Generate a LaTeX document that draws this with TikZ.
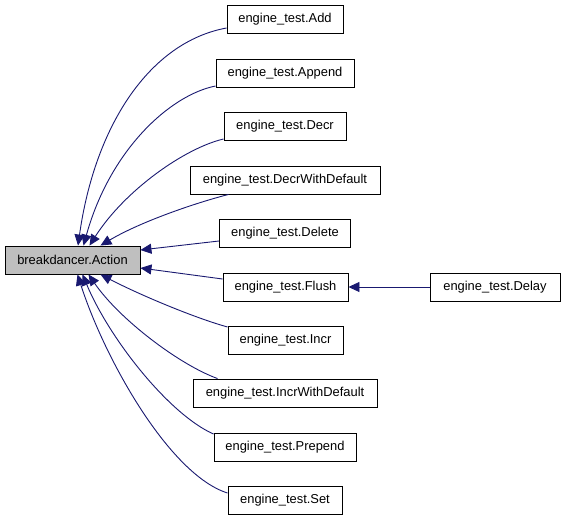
\documentclass[tikz,border=0pt]{standalone}
\usepackage{fontspec}
\setmainfont{Liberation Sans}
\usetikzlibrary{arrows.meta,calc}
\definecolor{edgeblue}{HTML}{191970}
\definecolor{actgray}{HTML}{BFBFBF}
\tikzset{
  cls/.style={draw=black, line width=0.9pt, fill=white, minimum height=28pt, inner sep=0pt,
    font=\fontsize{12.9}{15}\selectfont},
  dep/.style={draw=edgeblue, line width=0.9pt, -{Triangle[length=11pt,width=10pt]}},
}
\begin{document}
\begin{tikzpicture}[x=1pt,y=-1pt]
\useasboundingbox (0,0) rectangle (563,520);
\node[cls, fill=actgray, minimum width=135pt] (action) at (72.5,260) {breakdancer.Action};
\node[cls, minimum width=116pt] (add) at (285,19.5) {engine\_test.Add};
\node[cls, minimum width=138pt] (append) at (285,73) {engine\_test.Append};
\node[cls, minimum width=122pt] (decr) at (285,126) {engine\_test.Decr};
\node[cls, minimum width=190pt] (decrwd) at (285,180) {engine\_test.DecrWithDefault};
\node[cls, minimum width=131pt] (delete) at (285,233) {engine\_test.Delete};
\node[cls, minimum width=125pt] (flush) at (285.5,287) {engine\_test.Flush};
\node[cls, minimum width=115pt] (incr) at (285.5,340) {engine\_test.Incr};
\node[cls, minimum width=184pt] (incrwd) at (285,393) {engine\_test.IncrWithDefault};
\node[cls, minimum width=142pt] (prepend) at (285,447) {engine\_test.Prepend};
\node[cls, minimum width=114pt] (set) at (285,500) {engine\_test.Set};
\node[cls, minimum width=130pt] (delay) at (495,287) {engine\_test.Delay};

\draw[dep] ($(add.west)+(0,8.5)$) .. controls (150,42) and (95,125) .. ($(action.north)+(5.5,0)$);
\draw[dep] ($(append.west)+(0,13)$) .. controls (170,95) and (110,150) .. ($(action.north)+(11,0)$);
\draw[dep] ($(decr.west)+(0,13)$) .. controls (185,148) and (125,190) .. ($(action.north)+(17,0)$);
\draw[dep] ($(decrwd.south west)+(39,0)$) .. controls (195,203) and (140,222) .. ($(action.north)+(28,0)$);
\draw[dep] ($(delete.west)+(0,8)$) -- ($(action.east)+(0,-10)$);
\draw[dep] ($(flush.west)+(0,-8)$) -- ($(action.east)+(0,8)$);
\draw[dep] ($(incr.west)+(0,-13)$) .. controls (195,318) and (140,295) .. ($(action.south)+(28,0)$);
\draw[dep] ($(incrwd.north west)+(25,0)$) .. controls (180,365) and (120,320) .. ($(action.south)+(16,0)$);
\draw[dep] ($(prepend.west)+(0,-13)$) .. controls (170,415) and (110,340) .. ($(action.south)+(10,0)$);
\draw[dep] ($(set.west)+(0,-7)$) .. controls (170,475) and (105,360) .. ($(action.south)+(5,0)$);
\draw[dep] (delay.west) -- (flush.east);
\end{tikzpicture}
\end{document}
